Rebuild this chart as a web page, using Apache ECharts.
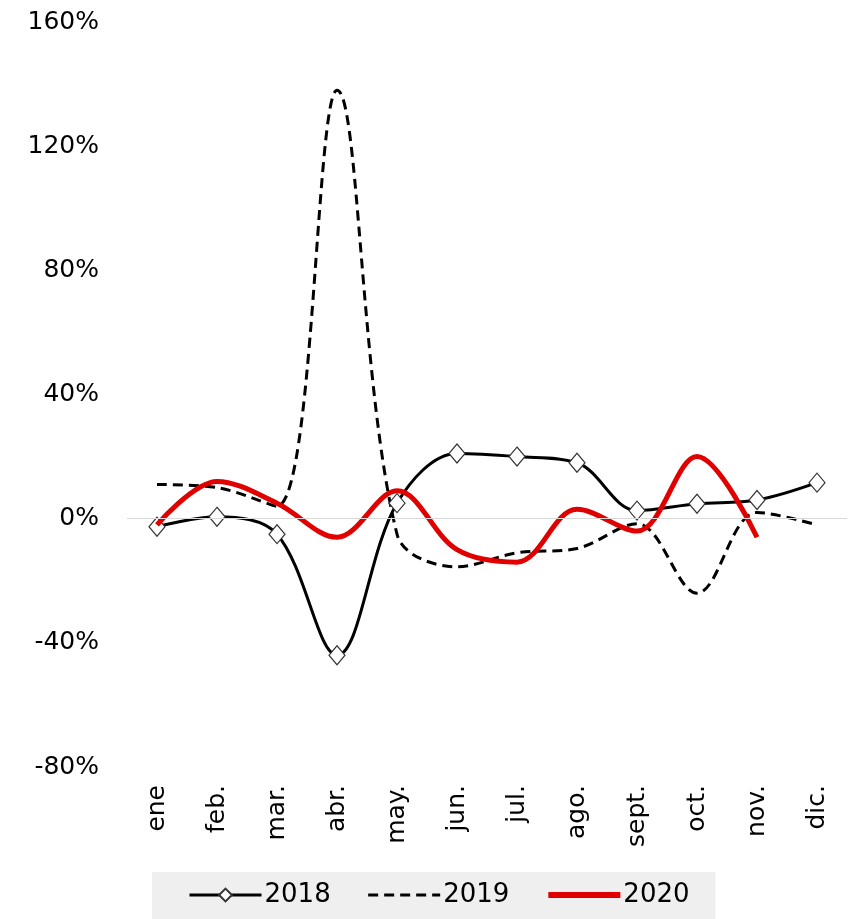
<!DOCTYPE html>
<html>
<head>
<meta charset="utf-8">
<script src="https://cdn.jsdelivr.net/npm/echarts@6/dist/echarts.min.js"></script>
<style>
    html, body { margin: 0; padding: 0; background: #fff; }
    #chart { width: 848px; height: 919px; }
</style>
</head>
<body>
<div id="chart"></div>
<script>
    var months = ['ene', 'feb.', 'mar.', 'abr.', 'may.', 'jun.', 'jul.', 'ago.', 'sept.', 'oct.', 'nov.', 'dic.'];
    var values2018 = [-2.6, 0.6, -5, -44, 5, 21, 20, 18, 2.6, 4.8, 6, 11.6];
    var values2019 = [11, 10, 4, 138, -5, -15.5, -11, -9.6, -1.6, -24, 2, -2];
    var values2020 = [-2, 12, 5, -6, 9, -10, -14, 3, -4, 20, -6];
    var yTicks = { min: -80, max: 160, step: 40 };

    var font = 'DejaVu Sans';
    var chart = echarts.init(document.getElementById('chart'));

    var option = {
        backgroundColor: '#fff',
        animation: false,
        grid: {
            left: 127,
            right: 1,
            top: 22,
            bottom: 152
        },
        legend: {
            left: 152,
            top: 872,
            padding: [10, 26, 14, 36],
            backgroundColor: '#efefef',
            itemWidth: 72,
            itemHeight: 16,
            itemGap: 36,
            textStyle: { fontFamily: font, fontSize: 26, color: '#000', padding: [0, 0, 0, -2] },
            data: [
                { name: '2018', lineStyle: { width: 3 } },
                { name: '2019', lineStyle: { width: 3 }, itemStyle: { opacity: 0 } },
                { name: '2020', lineStyle: { width: 6 }, itemStyle: { opacity: 0 } }
            ]
        },
        xAxis: {
            type: 'category',
            data: months,
            boundaryGap: true,
            axisLine: { show: false },
            axisTick: { show: false },
            axisLabel: {
                rotate: 90,
                margin: 18,
                color: '#000',
                fontFamily: font,
                fontSize: 25
            }
        },
        yAxis: {
            type: 'value',
            min: yTicks.min,
            max: yTicks.max,
            interval: yTicks.step,
            axisLine: { show: false },
            axisTick: { show: false },
            splitLine: { show: false },
            axisLabel: {
                margin: 28,
                color: '#000',
                fontFamily: font,
                fontSize: 25,
                formatter: '{value}%'
            }
        },
        series: [
            {
                name: '2018',
                type: 'line',
                data: values2018,
                smooth: 0.35,
                z: 3,
                symbol: 'diamond',
                symbolSize: [16, 19],
                itemStyle: { color: '#fff', borderColor: '#333', borderWidth: 1.2 },
                lineStyle: { color: '#000', width: 3 },
                markLine: {
                    silent: true,
                    symbol: 'none',
                    label: { show: false },
                    lineStyle: { color: '#d9d9d9', width: 1, type: 'solid' },
                    data: [{ yAxis: 0 }]
                }
            },
            {
                name: '2019',
                type: 'line',
                data: values2019,
                smooth: 0.35,
                z: 2,
                showSymbol: false,
                symbol: 'none',
                itemStyle: { color: '#000' },
                lineStyle: { color: '#000', width: 3, type: [10, 6] }
            },
            {
                name: '2020',
                type: 'line',
                data: values2020,
                smooth: 0.35,
                z: 4,
                showSymbol: false,
                symbol: 'none',
                itemStyle: { color: '#e00000' },
                lineStyle: { color: '#e00000', width: 5 }
            }
        ]
    };

    chart.setOption(option);
</script>
</body>
</html>
